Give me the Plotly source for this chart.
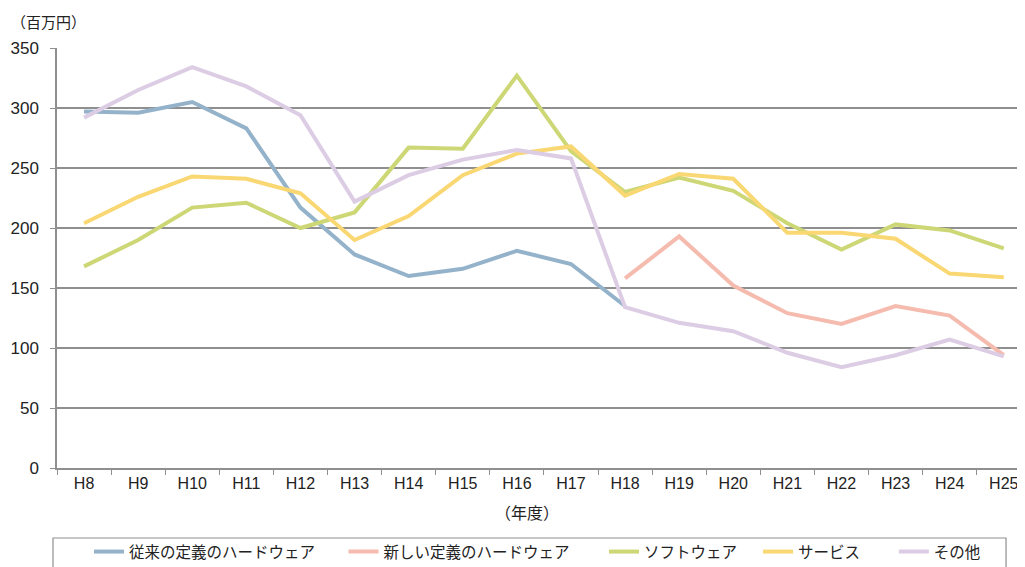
import plotly.graph_objects as go

years = ["H8", "H9", "H10", "H11", "H12", "H13", "H14", "H15", "H16",
         "H17", "H18", "H19", "H20", "H21", "H22", "H23", "H24", "H25"]

old_hw = [297, 296, 305, 283, 217, 178, 160, 166, 181, 170, 135,
          None, None, None, None, None, None, None]
new_hw = [None, None, None, None, None, None, None, None, None, None,
          158, 193, 152, 129, 120, 135, 127, 94]
software = [168, 190, 217, 221, 200, 213, 267, 266, 327, 264, 230,
            242, 231, 204, 182, 203, 198, 183]
service = [204, 226, 243, 241, 229, 190, 210, 244, 262, 268, 227,
           245, 241, 196, 196, 191, 162, 159]
other = [292, 315, 334, 318, 294, 222, 244, 257, 265, 258, 134,
         121, 114, 96, 84, 94, 107, 93]

series = [
    ("従来の定義のハードウェア", old_hw, "#94B3CA"),
    ("新しい定義のハードウェア", new_hw, "#F5BBAE"),
    ("ソフトウェア", software, "#CDD775"),
    ("サービス", service, "#F9D772"),
    ("その他", other, "#DCCDE5"),
]

FONT = "Liberation Sans, Noto Sans CJK JP, sans-serif"
JFONT = "Noto Sans CJK JP, sans-serif"

# one legend per entry so spacing matches the reference
legend_x = [0.0332, 0.2975, 0.568, 0.728, 0.869]
legend_names = ["legend", "legend2", "legend3", "legend4", "legend5"]

fig = go.Figure()
for (name, vals, color), lg in zip(series, legend_names):
    fig.add_trace(go.Scatter(
        x=years, y=vals, name=name, mode="lines", legend=lg,
        line=dict(color=color, width=4), connectgaps=False,
    ))

legend_layout = {}
for lg, lx in zip(legend_names, legend_x):
    legend_layout[lg] = dict(
        orientation="h", x=lx, xanchor="left", y=-0.2, yanchor="middle",
        font=dict(family=JFONT, size=15.5, color="#222222"),
        bgcolor="rgba(0,0,0,0)",
    )

# page body has an 8px margin, so the figure is 8px smaller than the window
fig.update_layout(
    width=1017, height=559,
    margin=dict(l=49, r=5, t=40, b=99, autoexpand=False),
    plot_bgcolor="white", paper_bgcolor="white",
    font=dict(family=FONT, size=17, color="#222222"),
    showlegend=True,
    xaxis=dict(
        type="category", range=[-0.5, 17.3], showgrid=False, automargin=False,
        showline=True, linecolor="#8f8f8f", linewidth=1.5,
        ticks="outside", tickson="boundaries", ticklen=5, tickcolor="#8f8f8f",
        tickfont=dict(size=16), fixedrange=True, ticklabeloverflow="allow",
    ),
    yaxis=dict(
        range=[0, 350], dtick=50, showgrid=True, gridcolor="#8f8f8f", gridwidth=1.5,
        showline=True, linecolor="#8f8f8f", linewidth=1.5, automargin=False,
        ticks="outside", ticklen=5, tickcolor="#8f8f8f",
        tickfont=dict(size=17), ticklabelstandoff=8, zeroline=False,
    ),
    shapes=[dict(
        type="rect", xref="paper", yref="paper",
        x0=-0.00415, x1=0.9855, y0=-0.1667, y1=-0.3,
        line=dict(color="#8f8f8f", width=1.2), fillcolor="rgba(0,0,0,0)",
    )],
    annotations=[
        dict(text="（年度）", xref="paper", yref="paper", x=0.488, y=-0.105,
             xanchor="center", yanchor="middle", showarrow=False,
             font=dict(family=JFONT, size=16)),
        dict(text="（百万円）", xref="paper", yref="paper", x=-0.05, y=1.094,
             xanchor="left", yanchor="top", showarrow=False,
             font=dict(family=JFONT, size=15)),
    ],
    **legend_layout,
)

fig.write_html("out.html")
